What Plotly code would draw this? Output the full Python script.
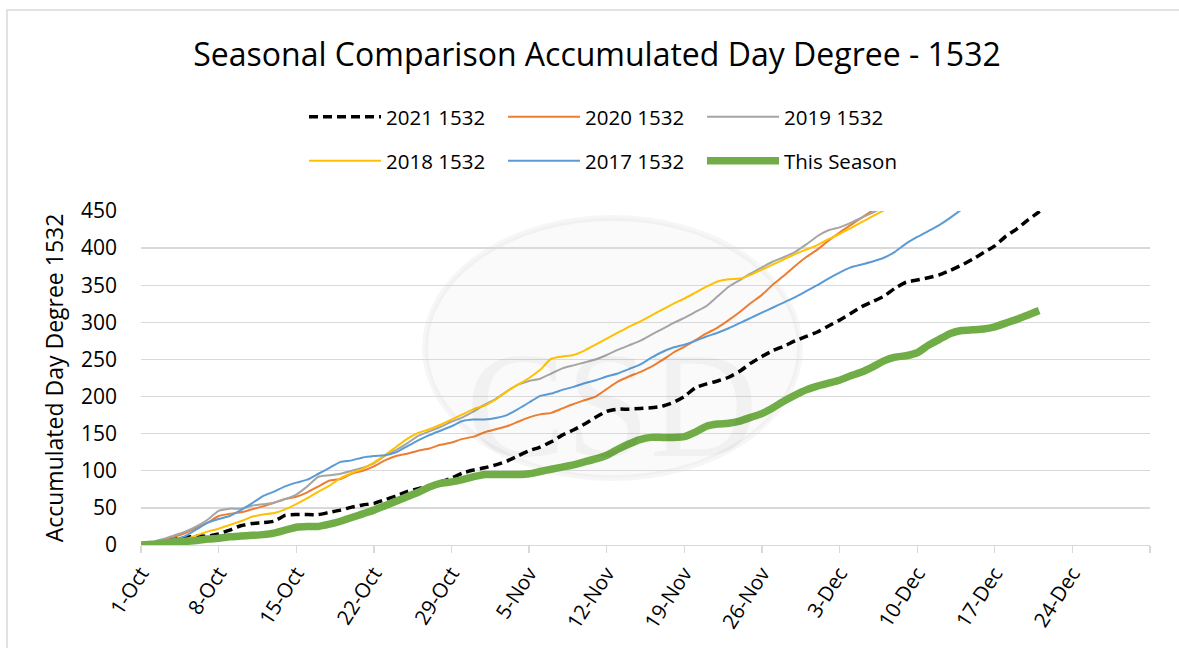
import pandas as pd
import plotly.graph_objects as go

# ---------------- data ----------------
start_date = "2022-10-01"

s2021 = [0, 2, 5, 8, 10, 12, 12, 15, 20, 26,
         29, 30, 32, 40, 41, 41, 41, 44, 47, 51,
         54, 56, 61, 66, 72, 76, 80, 85, 90, 97,
         101, 104, 108, 113, 120, 127, 132, 139, 148, 155,
         163, 172, 180, 183, 183, 184, 185, 187, 192, 200,
         212, 217, 221, 226, 234, 245, 254, 262, 268, 275,
         281, 287, 295, 303, 312, 321, 328, 335, 346, 354,
         357, 360, 364, 370, 377, 385, 394, 403, 416, 426,
         438, 449, 460]

s2020 = [0, 3, 7, 11, 16, 23, 30, 39, 42, 44,
         48, 52, 57, 62, 65, 71, 79, 87, 89, 96,
         100, 106, 114, 120, 123, 127, 130, 135, 138, 143,
         146, 152, 156, 160, 166, 172, 176, 178, 184, 190,
         195, 200, 210, 220, 227, 233, 240, 249, 259, 267,
         276, 285, 293, 303, 314, 326, 337, 351, 363, 376,
         388, 398, 410, 421, 431, 441, 451, 462]

s2019 = [0, 4, 8, 13, 18, 25, 34, 46, 49, 49,
         53, 55, 57, 62, 68, 79, 92, 94, 96, 100,
         104, 110, 120, 128, 137, 147, 153, 159, 166, 172,
         180, 189, 197, 207, 216, 221, 224, 231, 238, 242,
         246, 250, 256, 263, 269, 275, 283, 291, 299, 306,
         314, 322, 335, 348, 357, 366, 374, 382, 388, 395,
         405, 416, 424, 428, 434, 441, 448, 455]

s2018 = [0, 2, 4, 6, 8, 13, 18, 22, 27, 32,
         38, 41, 43, 48, 55, 63, 72, 80, 90, 97,
         103, 111, 121, 132, 143, 151, 156, 162, 169, 176,
         183, 188, 196, 207, 216, 225, 236, 251, 254, 256,
         262, 270, 278, 286, 294, 301, 309, 317, 325, 332,
         340, 348, 355, 358, 359, 364, 371, 378, 385, 392,
         398, 404, 412, 419, 427, 435, 443, 451]

s2017 = [0, 2, 5, 8, 12, 21, 30, 35, 39, 47,
         56, 66, 72, 79, 84, 88, 96, 104, 112, 114,
         118, 120, 121, 125, 133, 141, 148, 154, 160, 167,
         169, 169, 171, 175, 183, 192, 201, 204, 209, 213,
         218, 222, 227, 231, 237, 243, 252, 260, 266, 270,
         275, 281, 286, 292, 299, 306, 313, 320, 327, 334,
         342, 350, 359, 367, 374, 378, 382, 387, 395, 406,
         415, 423, 431, 441, 452]

this_season = [0, 1, 2, 4, 5, 6, 8, 9, 11, 12,
               13, 14, 16, 20, 24, 25, 25, 28, 32, 37,
               42, 47, 53, 59, 65, 71, 78, 83, 85, 88,
               92, 95, 95, 95, 95, 96, 99, 102, 105, 108,
               112, 116, 121, 129, 136, 142, 145, 145, 145, 146,
               152, 160, 163, 164, 167, 172, 177, 185, 194, 202,
               209, 214, 218, 222, 228, 233, 240, 248, 253, 255,
               259, 269, 277, 285, 289, 290, 291, 294, 299, 304,
               310, 316]

series_names = ["2021 1532", "2020 1532", "2019 1532", "2018 1532", "2017 1532", "This Season"]
series_values = [s2021, s2020, s2019, s2018, s2017, this_season]

tick_dates = ["2022-10-01", "2022-10-08", "2022-10-15", "2022-10-22", "2022-10-29",
              "2022-11-05", "2022-11-12", "2022-11-19", "2022-11-26", "2022-12-03",
              "2022-12-10", "2022-12-17", "2022-12-24", "2022-12-31"]
tick_labels = ["1-Oct", "8-Oct", "15-Oct", "22-Oct", "29-Oct", "5-Nov", "12-Nov",
               "19-Nov", "26-Nov", "3-Dec", "10-Dec", "17-Dec", "24-Dec", ""]
y_ticks = [0, 50, 100, 150, 200, 250, 300, 350, 400, 450]

# ---------------- styling ----------------
colors = ["#000000", "#ED7D31", "#A5A5A5", "#FFC000", "#5B9BD5", "#70AD47"]
widths = [3.5, 2, 2, 2, 2, 7.5]
dashes = ["9px,5px", "solid", "solid", "solid", "solid", "solid"]
legend_ids = ["legend", "legend", "legend", "legend2", "legend2", "legend2"]
FONT = "Open Sans"
GRID = "#D9D9D9"

fig = go.Figure()
for name, vals, c, w, d, lg in zip(series_names, series_values, colors, widths, dashes, legend_ids):
    x = pd.date_range(start_date, periods=len(vals), freq="D")
    fig.add_trace(go.Scatter(
        x=x, y=vals, name=name, mode="lines", legend=lg,
        line=dict(color=c, width=w, dash=d, shape="spline", smoothing=0.5),
        hoverinfo="skip"))

L, R, T, B = 141, 29, 211, 103
W, H = 1179, 648
pw, ph = W - L - R, H - T - B

def px_x(p):
    return (p - L) / pw

def px_y(p):
    return (H - B - p) / ph

legend_common = dict(
    orientation="h", xref="container", yref="container",
    xanchor="left", yanchor="middle",
    font=dict(family=FONT, size=20.5, color="#000000"),
    itemwidth=72, entrywidth=112, entrywidthmode="pixels",
    bgcolor="rgba(0,0,0,0)", tracegroupgap=0, itemclick=False,
)

fig.update_layout(
    width=W, height=H, autosize=False,
    margin=dict(l=L, r=R, t=T, b=B),
    paper_bgcolor="white", plot_bgcolor="white",
    font=dict(family=FONT, color="#000000"),
    title=dict(text="Seasonal Comparison Accumulated Day Degree - 1532",
               x=597 / W, xref="container", xanchor="center",
               y=1 - 55 / H, yref="container", yanchor="middle",
               font=dict(family=FONT, size=32, color="#000000")),
    legend=dict(x=304 / W, y=1 - 117 / H, **legend_common),
    legend2=dict(x=304 / W, y=1 - 161 / H, **legend_common),
    xaxis=dict(
        type="date",
        range=[tick_dates[0], tick_dates[-1]],
        tickvals=tick_dates, ticktext=tick_labels,
        tickangle=-57, tickfont=dict(family=FONT, size=20.5, color="#000000"),
        showgrid=False, showline=True, linecolor=GRID, linewidth=1.3,
        ticks="outside", ticklen=7, tickcolor=GRID, tickwidth=1.3,
        zeroline=False, fixedrange=True,
    ),
    yaxis=dict(
        range=[0, 450], tickvals=y_ticks,
        tickfont=dict(family=FONT, size=21, color="#000000"),
        showgrid=True, gridcolor=GRID, gridwidth=1.3,
        zeroline=False, showline=False, ticks="",
        ticklabelstandoff=23,
        title=dict(text="Accumulated Day Degree 1532", standoff=10,
                   font=dict(family=FONT, size=23, color="#000000")),
        fixedrange=True,
    ),
    showlegend=True,
    shapes=[
        # chart-area border
        dict(type="rect", xref="paper", yref="paper",
             x0=px_x(7), x1=px_x(1185), y0=px_y(655), y1=px_y(10),
             line=dict(color=GRID, width=1.5), fillcolor="rgba(0,0,0,0)", layer="below"),
        # faint watermark ellipse
        dict(type="circle", xref="paper", yref="paper",
             x0=px_x(425), x1=px_x(800), y0=px_y(478), y1=px_y(218),
             line=dict(color="rgba(0,0,0,0.035)", width=6),
             fillcolor="rgba(0,0,0,0.02)", layer="below"),
    ],
    annotations=[
        dict(text="CSD", xref="paper", yref="paper", x=px_x(612), y=px_y(320),
             showarrow=False, font=dict(family="Liberation Serif", size=150,
                                        color="rgba(0,0,0,0.035)")),
    ],
)

fig.write_html("out.html", config={"displayModeBar": False, "staticPlot": True},
               post_script="document.body.style.margin='0';document.body.style.overflow='hidden';")
